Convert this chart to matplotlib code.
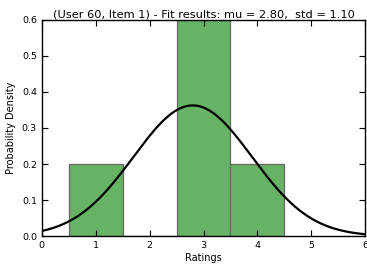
import numpy as np
import matplotlib
matplotlib.use("Agg")
import matplotlib.pyplot as plt

bin_edges = [0.5, 1.5, 2.5, 3.5, 4.5]
densities = [0.2, 0.0, 0.6, 0.2]
mu = 2.80
std = 1.10
title = "(User 60, Item 1) - Fit results: mu = %.2f,  std = %.2f" % (mu, std)

fig = plt.figure(figsize=(3.67, 2.65), dpi=100)
ax = fig.add_axes([0.114, 0.109, 0.881, 0.816])

lefts = bin_edges[:-1]
widths = np.diff(bin_edges)
ax.bar(lefts, densities, width=widths, align='edge', color=(0.4, 0.7, 0.4),
       edgecolor=(0.4, 0.4, 0.4), linewidth=0.9)

x = np.linspace(0, 6, 300)
pdf = np.exp(-0.5 * ((x - mu) / std) ** 2) / (std * np.sqrt(2 * np.pi))
ax.plot(x, pdf, 'k', linewidth=1.6)

ax.set_xlim(0, 6)
ax.set_ylim(0, 0.6)
ax.set_xticks(range(0, 7))
ax.set_yticks(np.arange(0, 0.61, 0.1))
ax.yaxis.set_major_formatter(matplotlib.ticker.FormatStrFormatter('%.1f'))
ax.tick_params(direction='in', top=True, right=True, labelsize=6.8, length=4, width=0.8)
for s in ax.spines.values():
    s.set_linewidth(1.0)
ax.set_xlabel("Ratings", fontsize=7, labelpad=2)
ax.set_ylabel("Probability Density", fontsize=7)
ax.set_title(title, fontsize=8.2, pad=2)

fig.savefig("out.png", dpi=100)
